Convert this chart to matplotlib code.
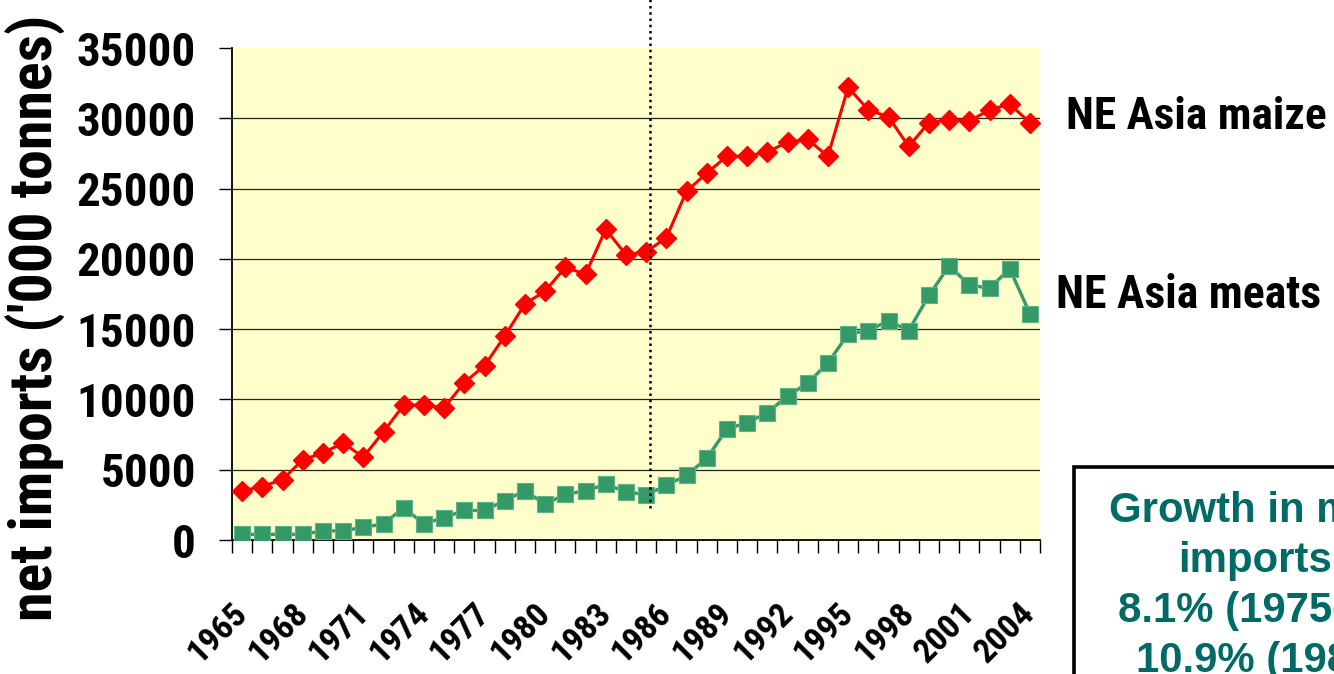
import os
import matplotlib
matplotlib.use("Agg")
import matplotlib.pyplot as plt
from matplotlib import font_manager as fm
from matplotlib.font_manager import FontProperties
from matplotlib.patches import Rectangle
from matplotlib.transforms import ScaledTranslation

# ---------------- data ----------------
years = list(range(1965, 2005))
maize = [3500, 3800, 4300, 5700, 6200, 6900, 5900, 7700, 9600, 9600,
         9400, 11200, 12400, 14500, 16800, 17700, 19400, 18900, 22100, 20300,
         20500, 21500, 24800, 26100, 27300, 27300, 27600, 28300, 28500, 27300,
         32200, 30600, 30100, 28000, 29700, 29900, 29800, 30600, 31000, 29700]
meats = [400, 400, 400, 400, 650, 650, 900, 1150, 2300, 1150,
         1600, 2100, 2100, 2800, 3500, 2550, 3250, 3500, 3950, 3450,
         3200, 3900, 4600, 5800, 7900, 8350, 9050, 10250, 11150, 12600,
         14650, 14900, 15600, 14900, 17400, 19500, 18150, 17900, 19300, 16100]
tick_years = list(range(1965, 2005, 3))
y_ticks = list(range(0, 35001, 5000))
series_labels = ["NE Asia maize", "NE Asia meats"]
y_label = "net imports ('000 tonnes)"
box_lines = ["Growth in meat", "imports:", "8.1% (1975-85)", "10.9% (1985-"]
divider_year = 1985.2
divider_bottom = 2300

# ---------------- fonts ----------------
def find_font(names):
    files = [f.fname for f in fm.fontManager.ttflist]
    for n in names:
        for fn in files:
            if os.path.basename(fn).lower() == n.lower():
                return fn
    return None

narrow_path = find_font(["LiberationSansNarrow-Bold.ttf", "ArialNarrowBold.ttf",
                         "arialnb.ttf", "NotoSans-CondensedBold.ttf",
                         "OpenSans-CondensedBold.ttf", "OpenSans_Condensed-Bold.ttf",
                         "RobotoCondensed-Bold.ttf", "Roboto_Condensed-Bold.ttf",
                         "DejaVuSansCondensed-Bold.ttf"])

def narrow(size):
    if narrow_path:
        return FontProperties(fname=narrow_path, size=size)
    return FontProperties(family=["Liberation Sans", "DejaVu Sans"], weight="bold", size=size)

W, H = 1334, 674
fig = plt.figure(figsize=(W / 100, H / 100), dpi=100)
fig.patch.set_facecolor("white")
renderer = fig.canvas.get_renderer()

def fx(x):
    return x / W

def fy(y):
    return 1 - y / H

def fit_size(text, target, prop):
    t = fig.text(0, 0, text, fontproperties=prop)
    bb = t.get_window_extent(renderer)
    t.remove()
    return prop.get_size_in_points() * target / bb.width

ax = fig.add_axes([fx(232), fy(540), (1040 - 232) / W, (540 - 48) / H])
ax.set_facecolor("#FFFFCC")

ax.plot(years, maize, color="#FF0000", lw=2.2, marker="D", ms=10.5,
        mfc="#FF0000", mec="#FF0000", zorder=4)
ax.plot(years, meats, color="#339966", lw=2.4, marker="s", ms=11.5,
        mfc="#339966", mec="#5cb386", mew=0.8, zorder=4)

ax.set_xlim(years[0] - 0.5, years[-1] + 0.5)
ax.set_ylim(y_ticks[0], y_ticks[-1])

# y axis
ax.set_yticks(y_ticks)
ysize = fit_size("35000", 119, narrow(30))
ax.set_yticklabels([str(v) for v in y_ticks])
for lab in ax.get_yticklabels():
    lab.set_fontproperties(narrow(ysize))
ax.tick_params(axis="y", length=9.4, width=1.0, color="black", pad=16.5)
ax.yaxis.grid(True, color="#222222", lw=0.9)
gl = ax.get_ygridlines()
gl[0].set_visible(False)
gl[-1].set_visible(False)
ax.set_axisbelow(True)

# x axis
ax.set_xticks(tick_years)
ax.set_xticks([y - 0.5 for y in years] + [years[-1] + 0.5], minor=True)
xsize = fit_size("1965", 70, narrow(20))
ax.set_xticklabels([str(y) for y in tick_years])
ax.tick_params(axis="x", which="major", length=0, pad=41)
ax.tick_params(axis="x", which="minor", length=9.4, width=1.0, color="black")
offset = ScaledTranslation(-11 / 100, 0, fig.dpi_scale_trans)
for lab in ax.get_xticklabels():
    lab.set_fontproperties(narrow(xsize))
    lab.set_rotation(45)
    lab.set_ha("right")
    lab.set_va("top")
    lab.set_rotation_mode("anchor")
    lab.set_transform(lab.get_transform() + offset)

for s in ("top", "right"):
    ax.spines[s].set_visible(False)
for s in ("left", "bottom"):
    ax.spines[s].set_color("black")
    ax.spines[s].set_linewidth(1.3)

# dotted divider
ax.plot([divider_year, divider_year], [divider_bottom, 40000], clip_on=False,
        color="black", lw=1.8, ls=(0, (1, 1.5)), zorder=5)

# y label
ylsize = fit_size(y_label, 605, narrow(40))
fig.text(fx(53), fy(318), y_label, rotation=90, ha="center", va="baseline",
         rotation_mode="anchor", fontproperties=narrow(ylsize))

# series labels
s1 = fit_size(series_labels[0], 260, narrow(30))
fig.text(fx(1066), fy(129), series_labels[0], ha="left", va="baseline",
         fontproperties=narrow(s1))
s2 = fit_size(series_labels[1], 265, narrow(30))
fig.text(fx(1056), fy(308), series_labels[1], ha="left", va="baseline",
         fontproperties=narrow(s2))

# growth box
fig.add_artist(Rectangle((fx(1074), -0.5), 1.0, fy(467) + 0.5,
                         transform=fig.transFigure, facecolor="white",
                         edgecolor="black", lw=2.6, zorder=1))
box_prop = FontProperties(family=["Liberation Sans", "DejaVu Sans"], weight="bold", size=30.2)
for i, line in enumerate(box_lines):
    fig.text(fx(1262), fy(522 + 50 * i), line, ha="center", va="baseline",
             color="#006B66", fontproperties=box_prop, zorder=2)

fig.savefig("out.png", dpi=100)
